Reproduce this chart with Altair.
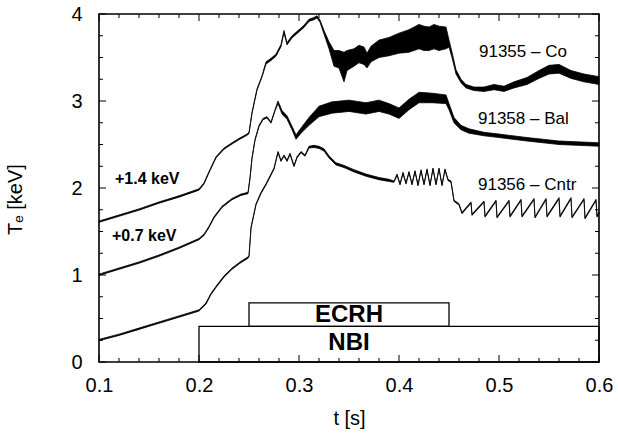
import altair as alt
import pandas as pd

# ---- data (lower / upper envelope of each trace) ----
co_t = [0.100, 0.120, 0.140, 0.160, 0.180, 0.200, 0.205, 0.210, 0.217, 0.225, 0.233, 0.240, 0.248, 0.250,
        0.253, 0.258, 0.263, 0.267, 0.272, 0.277, 0.282, 0.285, 0.288, 0.293, 0.300, 0.305, 0.310, 0.315,
        0.318, 0.321, 0.325, 0.330, 0.335, 0.340, 0.345, 0.348, 0.355, 0.360, 0.365, 0.368, 0.372, 0.380,
        0.390, 0.400, 0.410, 0.420, 0.425, 0.430, 0.435, 0.440, 0.447, 0.450, 0.453, 0.457, 0.462, 0.467,
        0.475, 0.485, 0.495, 0.505, 0.515, 0.528, 0.540, 0.550, 0.560, 0.572, 0.585, 0.600]
co_lo = [1.605, 1.675, 1.745, 1.825, 1.895, 1.975, 2.045, 2.175, 2.345, 2.445, 2.505, 2.555, 2.605, 2.625,
         2.855, 3.125, 3.275, 3.425, 3.465, 3.515, 3.625, 3.785, 3.645, 3.725, 3.795, 3.845, 3.915, 3.935,
         3.955, 3.905, 3.77, 3.60, 3.40, 3.38, 3.22, 3.35, 3.40, 3.44, 3.42, 3.38, 3.45, 3.50,
         3.52, 3.55, 3.56, 3.60, 3.58, 3.58, 3.60, 3.58, 3.60, 3.62, 3.50, 3.31, 3.21, 3.15,
         3.12, 3.11, 3.13, 3.11, 3.15, 3.19, 3.26, 3.31, 3.32, 3.26, 3.22, 3.19]
co_hi = [1.62, 1.69, 1.76, 1.84, 1.91, 1.99, 2.06, 2.19, 2.36, 2.46, 2.52, 2.57, 2.62, 2.64,
         2.87, 3.14, 3.29, 3.45, 3.49, 3.54, 3.65, 3.81, 3.67, 3.75, 3.82, 3.87, 3.94, 3.96,
         3.98, 3.93, 3.81, 3.68, 3.58, 3.58, 3.56, 3.58, 3.60, 3.64, 3.62, 3.55, 3.63, 3.70,
         3.73, 3.78, 3.82, 3.88, 3.86, 3.85, 3.88, 3.86, 3.85, 3.70, 3.56, 3.36, 3.25, 3.19,
         3.16, 3.16, 3.19, 3.17, 3.22, 3.27, 3.35, 3.41, 3.42, 3.35, 3.31, 3.28]

bal_t = [0.100, 0.120, 0.140, 0.160, 0.180, 0.200, 0.205, 0.210, 0.215, 0.223, 0.233, 0.242, 0.249, 0.251,
         0.253, 0.256, 0.260, 0.264, 0.268, 0.272, 0.276, 0.279, 0.283, 0.288, 0.293, 0.297, 0.302, 0.310,
         0.320, 0.333, 0.350, 0.367, 0.380, 0.390, 0.400, 0.410, 0.420, 0.433, 0.447, 0.450, 0.455, 0.462,
         0.470, 0.485, 0.500, 0.528, 0.560, 0.600]
bal_lo = [0.995, 1.065, 1.135, 1.215, 1.305, 1.405, 1.455, 1.545, 1.655, 1.775, 1.865, 1.915, 1.935, 2.105,
          2.335, 2.545, 2.705, 2.785, 2.805, 2.745, 2.885, 2.97, 2.85, 2.79, 2.67, 2.56, 2.63, 2.72,
          2.82, 2.86, 2.88, 2.85, 2.88, 2.85, 2.80, 2.90, 2.98, 2.98, 2.97, 2.90, 2.75, 2.67,
          2.63, 2.60, 2.58, 2.54, 2.50, 2.48]
bal_hi = [1.01, 1.08, 1.15, 1.23, 1.32, 1.42, 1.47, 1.56, 1.67, 1.79, 1.88, 1.93, 1.95, 2.12,
          2.35, 2.56, 2.72, 2.80, 2.82, 2.76, 2.90, 3.00, 2.89, 2.83, 2.71, 2.61, 2.69, 2.81,
          2.94, 2.99, 3.01, 2.98, 3.01, 2.97, 2.92, 3.02, 3.10, 3.09, 3.07, 2.97, 2.81, 2.72,
          2.68, 2.64, 2.62, 2.58, 2.54, 2.52]

cn_t = [0.100, 0.120, 0.140, 0.160, 0.180, 0.200, 0.207, 0.212, 0.217, 0.225, 0.233, 0.241, 0.248, 0.250,
        0.252, 0.257, 0.262, 0.267, 0.271, 0.275, 0.279, 0.282, 0.285, 0.288, 0.291, 0.295, 0.298, 0.302,
        0.306, 0.310, 0.315, 0.320, 0.325, 0.330, 0.337, 0.345, 0.355, 0.367, 0.380, 0.390,
        0.395, 0.398, 0.401, 0.404, 0.407, 0.410, 0.413, 0.416, 0.419, 0.422, 0.425, 0.428, 0.431, 0.434,
        0.437, 0.440, 0.443, 0.446, 0.449, 0.452, 0.455, 0.460, 0.463,
        0.472, 0.473, 0.485, 0.486, 0.497, 0.498, 0.510, 0.511, 0.522, 0.523, 0.535, 0.536, 0.547, 0.548,
        0.560, 0.561, 0.572, 0.573, 0.585, 0.586, 0.597, 0.598, 0.600]
cn_lo = [0.245, 0.305, 0.375, 0.445, 0.515, 0.585, 0.665, 0.775, 0.855, 0.975, 1.065, 1.135, 1.185, 1.205,
         1.535, 1.805, 1.935, 2.035, 2.125, 2.215, 2.405, 2.305, 2.365, 2.305, 2.385, 2.245, 2.345, 2.405,
         2.365, 2.46, 2.465, 2.455, 2.425, 2.345, 2.265, 2.235, 2.185, 2.135, 2.095, 2.075,
         2.065, 2.145, 2.035, 2.165, 2.045, 2.175, 2.035, 2.185, 2.025, 2.195, 2.035, 2.205, 2.025, 2.215,
         2.035, 2.215, 2.025, 2.205, 2.085, 2.065, 1.845, 1.805, 1.705,
         1.825, 1.685, 1.835, 1.665, 1.845, 1.655, 1.845, 1.665, 1.855, 1.665, 1.865, 1.655, 1.865, 1.665,
         1.875, 1.665, 1.875, 1.655, 1.865, 1.645, 1.855, 1.665, 1.705]
cn_hi = [0.26, 0.32, 0.39, 0.46, 0.53, 0.60, 0.68, 0.79, 0.87, 0.99, 1.08, 1.15, 1.20, 1.22,
         1.55, 1.82, 1.95, 2.05, 2.14, 2.23, 2.42, 2.32, 2.38, 2.32, 2.40, 2.26, 2.36, 2.42,
         2.38, 2.48, 2.49, 2.48, 2.45, 2.37, 2.29, 2.26, 2.21, 2.16, 2.12, 2.10,
         2.08, 2.16, 2.05, 2.18, 2.06, 2.19, 2.05, 2.20, 2.04, 2.21, 2.05, 2.22, 2.04, 2.23,
         2.05, 2.23, 2.04, 2.22, 2.10, 2.08, 1.86, 1.82, 1.72,
         1.84, 1.70, 1.85, 1.68, 1.86, 1.67, 1.86, 1.68, 1.87, 1.68, 1.88, 1.67, 1.88, 1.68,
         1.89, 1.68, 1.89, 1.67, 1.88, 1.66, 1.87, 1.68, 1.72]

# heating windows
heat_names = ["ECRH", "NBI"]
heat_t0 = [0.25, 0.20]
heat_t1 = [0.45, 0.60]
heat_y0 = [0.41, 0.0]
heat_y1 = [0.68, 0.41]
heat_label_t = [0.35, 0.35]
heat_label_y = [0.54, 0.22]

# series labels
lab_text = ["91355 \u2013 Co", "91358 \u2013 Bal", "91356 \u2013 Cntr"]
lab_t = [0.480, 0.479, 0.479]
lab_y = [3.56, 2.79, 2.04]

off_text = ["+1.4 keV", "+0.7 keV"]
off_t = [0.116, 0.113]
off_y = [2.10, 1.45]

# axis ticks
x_major = [0.1, 0.2, 0.3, 0.4, 0.5, 0.6]
x_minor = [0.12, 0.14, 0.16, 0.18, 0.22, 0.24, 0.26, 0.28, 0.32, 0.34, 0.36, 0.38,
           0.42, 0.44, 0.46, 0.48, 0.52, 0.54, 0.56, 0.58]
y_major = [0, 1, 2, 3, 4]
y_minor = [0.25, 0.5, 0.75, 1.25, 1.5, 1.75, 2.25, 2.5, 2.75, 3.25, 3.5, 3.75]

W, H = 500, 348
FONT = "Liberation Sans"
xs = alt.Scale(domain=[0.1, 0.6], nice=False, zero=False)
ys = alt.Scale(domain=[0, 4], nice=False, zero=True)

x_axis = alt.Axis(values=x_major, format=".1f", title="t [s]", labelPadding=13, titlePadding=13)
y_axis = alt.Axis(values=y_major, format="d", title="T\u2091 [keV]", labelPadding=17,
                  titleX=-78, titleY=185, titleAngle=270, titleAlign="center",
                  titleBaseline="alphabetic")


def band(ts, lo, hi, first=False):
    d = pd.DataFrame({"t": ts, "lo": lo, "hi": hi})
    return alt.Chart(d).mark_area(color="black", stroke="black", strokeWidth=0.8,
                                  interpolate="linear").encode(
        x=alt.X("t:Q", scale=xs, axis=x_axis if first else alt.Undefined, title="t [s]"),
        y=alt.Y("lo:Q", scale=ys, stack=None, axis=y_axis if first else alt.Undefined,
                title="T\u2091 [keV]"),
        y2="hi:Q",
    )


layers = [band(co_t, co_lo, co_hi, True), band(bal_t, bal_lo, bal_hi), band(cn_t, cn_lo, cn_hi)]

heat = pd.DataFrame({"name": heat_names, "t0": heat_t0, "t1": heat_t1, "y0": heat_y0, "y1": heat_y1,
                     "lt": heat_label_t, "ly": heat_label_y})
labs = pd.DataFrame({"text": lab_text, "t": lab_t, "y": lab_y})
offs = pd.DataFrame({"text": off_text, "t": off_t, "y": off_y})

layers.append(alt.Chart(heat).mark_rect(fill="white", fillOpacity=0, stroke="black",
                                        strokeWidth=1.3).encode(
    x=alt.X("t0:Q", scale=xs), x2="t1:Q", y=alt.Y("y0:Q", scale=ys), y2="y1:Q"))
layers.append(alt.Chart(heat).mark_text(font=FONT, fontSize=24, fontWeight="bold", color="black",
                                        align="center", baseline="middle").encode(
    x=alt.X("lt:Q", scale=xs), y=alt.Y("ly:Q", scale=ys), text="name:N"))
layers.append(alt.Chart(labs).mark_text(font=FONT, fontSize=17, color="black", align="left",
                                        baseline="middle").encode(
    x=alt.X("t:Q", scale=xs), y=alt.Y("y:Q", scale=ys), text="text:N"))
layers.append(alt.Chart(offs).mark_text(font=FONT, fontSize=16, fontWeight="bold", color="black",
                                        align="left", baseline="middle").encode(
    x=alt.X("t:Q", scale=xs), y=alt.Y("y:Q", scale=ys), text="text:N"))


def xticks(vals, length):
    d = pd.DataFrame({"v": vals})
    bot = alt.Chart(d).mark_rule(color="black", strokeWidth=1).encode(
        x=alt.X("v:Q", scale=xs), y=alt.value(H), y2=alt.value(H - length))
    top = alt.Chart(d).mark_rule(color="black", strokeWidth=1).encode(
        x=alt.X("v:Q", scale=xs), y=alt.value(0), y2=alt.value(length))
    return [bot, top]


def yticks(vals, length):
    d = pd.DataFrame({"v": vals})
    left = alt.Chart(d).mark_rule(color="black", strokeWidth=1).encode(
        y=alt.Y("v:Q", scale=ys), x=alt.value(0), x2=alt.value(length))
    right = alt.Chart(d).mark_rule(color="black", strokeWidth=1).encode(
        y=alt.Y("v:Q", scale=ys), x=alt.value(W), x2=alt.value(W - length))
    return [left, right]


layers += xticks(x_major, 7) + xticks(x_minor, 4) + yticks(y_major, 7) + yticks(y_minor, 4)

chart = alt.layer(*layers).properties(
    width=W, height=H,
    autosize=alt.AutoSizeParams(type="none"),
    padding={"left": 99, "top": 14, "right": 19, "bottom": 75},
    background="white",
).configure_view(stroke="black", strokeWidth=1.6).configure_axis(
    ticks=False, domain=False, grid=False, labelFontSize=20, titleFontSize=20,
    labelFont=FONT, titleFont=FONT, titleFontWeight="normal", labelColor="black",
    titleColor="black", labelFlush=False,
)

chart.save("out.html", embed_options={"renderer": "svg", "actions": False})
